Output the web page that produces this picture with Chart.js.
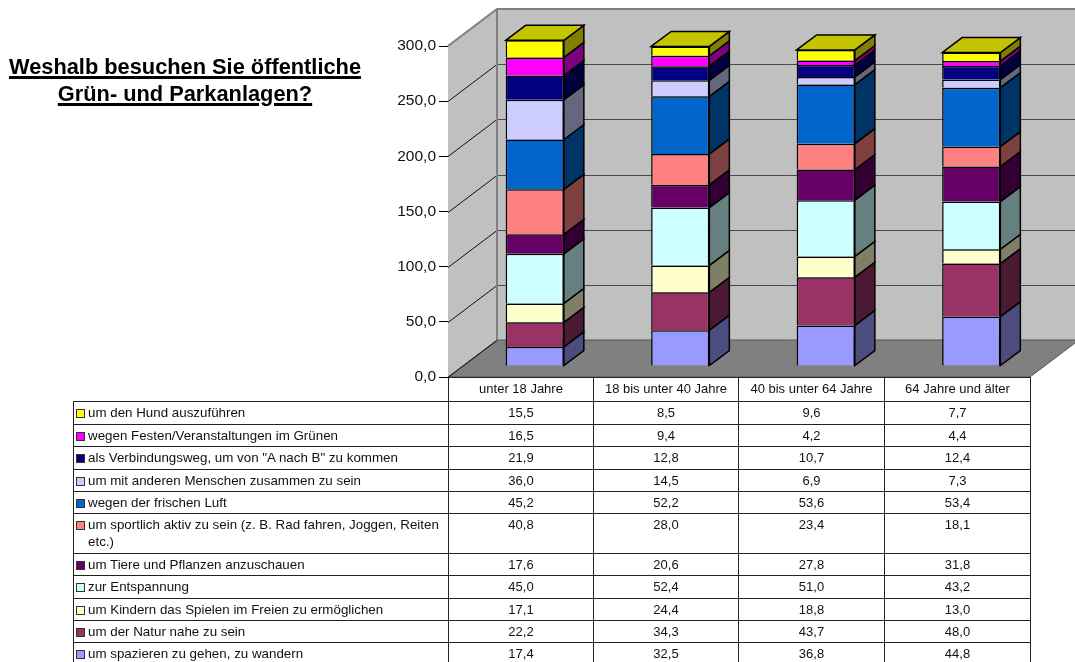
<!DOCTYPE html>
<html>
<head>
<meta charset="utf-8">
<script src="https://cdn.jsdelivr.net/npm/chart.js"></script>
<style>
    html, body { margin: 0; padding: 0; background: #fff; width: 1075px; height: 662px; overflow: hidden; font-family: "Liberation Sans", Arial, sans-serif; }
    #myChart { position: absolute; left: 0; top: 0; }
    #title { position: absolute; left: 0; top: 53px; width: 370px; text-align: center; font-size: 21.8px; line-height: 27px; font-weight: bold; text-decoration: underline; text-decoration-thickness: 3px; text-underline-offset: 2px; color: #000; }
    #dataTable { position: absolute; left: 73px; top: 377px; border-collapse: collapse; table-layout: fixed; font-size: 13px; color: #111; }
    #dataTable td { border: 1px solid #222; padding: 2px 0 0 0; vertical-align: top; text-align: center; line-height: 17px; box-sizing: border-box; overflow: hidden; }
    #dataTable td.label { text-align: left; padding-left: 14px; position: relative; font-size: 13.35px; }
    #dataTable td.blank { border: none; border-bottom: 1px solid #222; }
    .swatch { position: absolute; left: 2px; top: 7px; width: 7px; height: 7px; border: 1px solid #333; }
</style>
</head>
<body>
    <canvas id="myChart" width="1075" height="662"></canvas>
    <div id="title">Weshalb besuchen Sie öffentliche<br>Grün- und Parkanlagen?</div>
    <table id="dataTable"></table>
    <script>
        const categories = ['unter 18 Jahre', '18 bis unter 40 Jahre', '40 bis unter 64 Jahre', '64 Jahre und älter']

        // bottom of the stack first
        const seriesNames = [
            'um spazieren zu gehen, zu wandern',
            'um der Natur nahe zu sein',
            'um Kindern das Spielen im Freien zu ermöglichen',
            'zur Entspannung',
            'um Tiere und Pflanzen anzuschauen',
            'um sportlich aktiv zu sein (z. B. Rad fahren, Joggen, Reiten etc.)',
            'wegen der frischen Luft',
            'um mit anderen Menschen zusammen zu sein',
            'als Verbindungsweg, um von "A nach B" zu kommen',
            'wegen Festen/Veranstaltungen im Grünen',
            'um den Hund auszuführen'
        ]
        const spazieren = [17.4, 32.5, 36.8, 44.8]
        const natur = [22.2, 34.3, 43.7, 48.0]
        const kinder = [17.1, 24.4, 18.8, 13.0]
        const entspannung = [45.0, 52.4, 51.0, 43.2]
        const tiere = [17.6, 20.6, 27.8, 31.8]
        const sportlich = [40.8, 28.0, 23.4, 18.1]
        const luft = [45.2, 52.2, 53.6, 53.4]
        const menschen = [36.0, 14.5, 6.9, 7.3]
        const verbindung = [21.9, 12.8, 10.7, 12.4]
        const feste = [16.5, 9.4, 4.2, 4.4]
        const hund = [15.5, 8.5, 9.6, 7.7]
        const seriesValues = [spazieren, natur, kinder, entspannung, tiere, sportlich, luft, menschen, verbindung, feste, hund]

        const frontColors = ['#9999FF', '#993366', '#FFFFCC', '#CCFFFF', '#660066', '#FF8080', '#0066CC', '#CCCCFF', '#000080', '#FF00FF', '#FFFF00']
        const sideColors = ['#4C4C7F', '#4C1933', '#7F7F66', '#667F7F', '#330033', '#7F4040', '#003366', '#66667F', '#000040', '#7F007F', '#7F7F00']
        const topColor = '#C4C400'
        const yTicks = [0, 50, 100, 150, 200, 250, 300]

        const formatNum = v => v.toFixed(1).replace('.', ',')

        // fake 3D: walls behind the bars, side and top faces for each bar segment
        const wallDx = 49, wallDy = 37
        const barShiftX = 14, barShiftY = 11
        const barDx = 20, barDy = 15

        function poly(ctx, pts, fill, stroke, lw) {
            ctx.beginPath()
            pts.forEach((p, i) => i ? ctx.lineTo(p[0], p[1]) : ctx.moveTo(p[0], p[1]))
            ctx.closePath()
            if (fill) { ctx.fillStyle = fill; ctx.fill() }
            if (stroke) { ctx.strokeStyle = stroke; ctx.lineWidth = lw; ctx.stroke() }
        }

        const walls3d = {
            id: 'walls3d',
            beforeDatasetsDraw(chart) {
                const ctx = chart.ctx
                const { left, right } = chart.chartArea
                const y = chart.scales.y
                const top = y.getPixelForValue(300), bottom = y.getPixelForValue(0)
                ctx.save()
                // back wall
                poly(ctx, [[left + wallDx, top - wallDy], [right + wallDx, top - wallDy], [right + wallDx, bottom - wallDy], [left + wallDx, bottom - wallDy]], '#C0C0C0')
                // side wall
                poly(ctx, [[left, top], [left + wallDx, top - wallDy], [left + wallDx, bottom - wallDy], [left, bottom]], '#C0C0C0')
                // floor
                poly(ctx, [[left, bottom], [left + wallDx, bottom - wallDy], [right + wallDx, bottom - wallDy], [right, bottom]], '#808080', '#555', 1)
                // grid
                ctx.lineWidth = 1
                yTicks.forEach(t => {
                    const py = Math.round(y.getPixelForValue(t)) + 0.5
                    if (t > 0 && t < 300) {
                        ctx.strokeStyle = '#4a4a4a'
                        ctx.beginPath()
                        ctx.moveTo(left + wallDx, py - wallDy)
                        ctx.lineTo(right + wallDx, py - wallDy)
                        ctx.stroke()
                    }
                    if (t < 300) {
                        ctx.strokeStyle = '#111'
                        ctx.beginPath()
                        ctx.moveTo(left, py)
                        ctx.lineTo(left + wallDx, py - wallDy)
                        ctx.stroke()
                    }
                })
                // wall edges
                ctx.strokeStyle = '#808080'
                ctx.lineWidth = 2
                ctx.beginPath()
                ctx.moveTo(left, top)
                ctx.lineTo(left + wallDx, top - wallDy)
                ctx.lineTo(right + wallDx, top - wallDy)
                ctx.moveTo(left + wallDx, top - wallDy)
                ctx.lineTo(left + wallDx, bottom - wallDy)
                ctx.stroke()
                ctx.restore()

                // bars sit further back than the axis plane
                ctx.save()
                ctx.translate(barShiftX, -barShiftY)
                chart.data.datasets.forEach((ds, i) => {
                    chart.getDatasetMeta(i).data.forEach(bar => {
                        const l = bar.x - bar.width / 2, r = bar.x + bar.width / 2
                        poly(ctx, [[r, bar.y], [r + barDx, bar.y - barDy], [r + barDx, bar.base - barDy], [r, bar.base]], sideColors[i], '#000', 1.5)
                        if (i === chart.data.datasets.length - 1) {
                            poly(ctx, [[l, bar.y], [l + barDx, bar.y - barDy], [r + barDx, bar.y - barDy], [r, bar.y]], topColor, '#000', 1.5)
                        }
                    })
                })
            },
            afterDatasetsDraw(chart) {
                chart.ctx.restore()
            }
        }

        const ctx = document.getElementById('myChart')
        const myChart = new Chart(ctx, {
            type: 'bar',
            plugins: [walls3d],
            data: {
                labels: categories,
                datasets: seriesNames.map((name, i) => ({
                    label: name,
                    data: seriesValues[i],
                    backgroundColor: frontColors[i],
                    borderColor: '#000',
                    borderWidth: 1.5,
                    clip: false
                }))
            },
            options: {
                responsive: false,
                animation: false,
                layout: { padding: { left: 0, top: 46, right: 45, bottom: 285 } },
                datasets: { bar: { barPercentage: 0.4, categoryPercentage: 1 } },
                plugins: { legend: { display: false }, tooltip: { enabled: false } },
                scales: {
                    x: { stacked: true, display: false },
                    y: {
                        stacked: true,
                        min: 0,
                        max: 300,
                        afterFit: s => { s.width = 448; s.paddingTop = 0; s.paddingBottom = 0 },
                        border: { color: '#000', width: 1 },
                        grid: { drawOnChartArea: false, color: '#000', tickLength: 9 },
                        ticks: {
                            stepSize: 50,
                            padding: 3,
                            color: '#111',
                            font: { family: '"Liberation Sans", Arial, sans-serif', size: 15.5 },
                            callback: v => formatNum(v)
                        }
                    }
                }
            }
        })

        // data table under the chart
        const colWidths = [375, 145, 145, 146, 146]
        const rowHeights = [23, 22, 23, 22, 22, 40, 22, 23, 22, 22, 21]
        const table = document.getElementById('dataTable')
        table.style.width = colWidths.reduce((a, b) => a + b) + 'px'
        const cg = document.createElement('colgroup')
        colWidths.forEach(w => { const c = document.createElement('col'); c.style.width = w + 'px'; cg.appendChild(c) })
        table.appendChild(cg)
        const head = table.insertRow()
        head.style.height = '24px'
        head.insertCell().className = 'blank'
        categories.forEach(c => { head.insertCell().textContent = c })
        for (let i = seriesNames.length - 1; i >= 0; i--) {
            const row = table.insertRow()
            row.style.height = rowHeights[seriesNames.length - 1 - i] + 'px'
            const cell = row.insertCell()
            cell.className = 'label'
            const sw = document.createElement('span')
            sw.className = 'swatch'
            sw.style.background = frontColors[i]
            cell.appendChild(sw)
            cell.appendChild(document.createTextNode(seriesNames[i]))
            seriesValues[i].forEach(v => { row.insertCell().textContent = formatNum(v) })
        }
    </script>
</body>
</html>
